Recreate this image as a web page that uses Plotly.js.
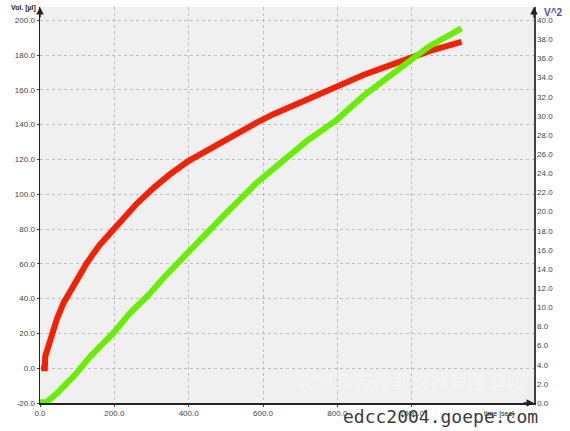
<!DOCTYPE html>
<html>
<head>
<meta charset="utf-8">
<script src="https://cdn.plot.ly/plotly-3.0.1.min.js"></script>
<style>html,body{margin:0;padding:0;background:#fff;}#chart{width:570px;height:431px;}</style>
</head>
<body>
<div id="chart"></div>
<script>
// Red series: volume [µl] vs time [sec] (left axis)
const volTime = [3, 13, 14, 27, 45, 63, 90, 126, 161, 197, 233, 260, 305, 350, 399, 439, 484, 538, 583, 628, 673, 718, 763, 808, 870, 915, 1000, 1049, 1134];
const volValues = [0, 0, 6.7, 16, 28, 37.4, 48, 60.5, 71, 80, 88, 94.5, 103.5, 111.5, 119, 123.9, 129.6, 136, 141.2, 146, 150.2, 154.7, 159.3, 163.3, 168.5, 172, 178.8, 182.4, 187.6];
// Green series: V^2 vs time [sec] (right axis)
const v2Time = [0, 18, 45, 90, 135, 197, 242, 292, 332, 404, 493, 583, 673, 718, 763, 800, 870, 942, 1000, 1049, 1094, 1134];
const v2Values = [0.05, 0.1, 1.0, 2.76, 4.85, 7.3, 9.4, 11.3, 13.07, 16.04, 19.53, 23.02, 26.0, 27.38, 28.62, 29.64, 32.09, 34.27, 35.91, 37.31, 38.36, 39.15];
// Tick labels
const xTicks = [0, 200, 400, 600, 800, 1000];
const yTicks = [-20, 0, 20, 40, 60, 80, 100, 120, 140, 160, 180, 200];
const y2Ticks = [0,2,4,6,8,10,12,14,16,18,20,22,24,26,28,30,32,34,36,38,40];

const fmt = v => v.toFixed(1);
const tickFont = {family: 'Liberation Sans, Arial, sans-serif', size: 8, color: '#444'};

const traces = [
  {x: v2Time, y: v2Values, yaxis: 'y2', mode: 'lines', line: {color: '#66f000', width: 6}, hoverinfo: 'skip'},
  {x: volTime, y: volValues, mode: 'lines', line: {color: '#f52000', width: 6}, hoverinfo: 'skip'}
];

const layout = {
  width: 570, height: 431,
  margin: {l: 40, r: 36, t: 7, b: 28},
  paper_bgcolor: '#ffffff',
  plot_bgcolor: '#f0f0f0',
  showlegend: false,
  xaxis: {
    range: [0, 1329], tickvals: xTicks, ticktext: xTicks.map(fmt),
    showgrid: true, gridcolor: '#bdbdbd', griddash: 'dot', gridwidth: 1,
    zeroline: false, showline: true, linecolor: '#222', linewidth: 1.5,
    ticks: 'outside', ticklen: 2, tickcolor: '#444', tickfont: tickFont
  },
  yaxis: {
    range: [-20, 207.6], tickvals: yTicks, ticktext: yTicks.map(fmt),
    showgrid: true, gridcolor: '#bdbdbd', griddash: 'dot', gridwidth: 1,
    zeroline: false, showline: true, linecolor: '#222', linewidth: 1.5,
    ticks: 'outside', ticklen: 2, tickcolor: '#444', tickfont: tickFont
  },
  yaxis2: {
    overlaying: 'y', side: 'right', range: [0, 41.38],
    tickvals: y2Ticks, ticktext: y2Ticks.map(fmt),
    showgrid: false, zeroline: false, showline: true, linecolor: '#444', linewidth: 1.5,
    ticks: '', ticklen: 0, tickfont: tickFont
  },
  annotations: [
    {xref: 'paper', yref: 'paper', x: 0, y: 1.0, ax: 0, ay: 12, text: '', showarrow: true, arrowhead: 2, arrowsize: 1, arrowwidth: 1.5, arrowcolor: '#222'},
    {xref: 'paper', yref: 'paper', x: 1, y: 1.0, ax: 0, ay: 12, text: '', showarrow: true, arrowhead: 2, arrowsize: 1, arrowwidth: 1.5, arrowcolor: '#222'},
    {xref: 'paper', yref: 'paper', x: 1, y: 0, ax: -12, ay: 0, text: '', showarrow: true, arrowhead: 2, arrowsize: 1, arrowwidth: 1.5, arrowcolor: '#222'},
    {xref: 'paper', yref: 'paper', x: 0, y: 1.0, xanchor: 'right', yanchor: 'middle', xshift: -2, yshift: -1, text: '<b>Vol. [µl]</b>', showarrow: false, font: {family: 'Liberation Sans, Arial, sans-serif', size: 7, color: '#222'}},
    {xref: 'paper', yref: 'paper', x: 1, y: 1.0, xanchor: 'left', yanchor: 'middle', xshift: 8, yshift: -5, text: '<b>V^2</b>', showarrow: false, font: {family: 'Liberation Sans, Arial, sans-serif', size: 10, color: '#4a4ad0'}},
    {xref: 'paper', yref: 'paper', x: 0.93, y: 0, xanchor: 'center', yanchor: 'top', yshift: -5, text: 'time [sec]', showarrow: false, font: {family: 'Liberation Sans, Arial, sans-serif', size: 7, color: '#222'}},
    {xref: 'paper', yref: 'paper', x: 0.75, y: 0.06, xanchor: 'center', yanchor: 'middle', text: '北京东方德菲仪器有限公司', showarrow: false, font: {family: 'Noto Sans CJK SC', size: 19, color: '#f4f4f4'}},
    {xref: 'paper', yref: 'paper', x: 0.81, y: 0, xanchor: 'center', yanchor: 'top', yshift: -1, text: 'edcc2004.goepe.com', showarrow: false, font: {family: 'DejaVu Sans Mono, monospace', size: 18, color: '#3a3a3a'}}
  ]
};

Plotly.newPlot('chart', traces, layout, {displayModeBar: false, staticPlot: true});
</script>
</body>
</html>
